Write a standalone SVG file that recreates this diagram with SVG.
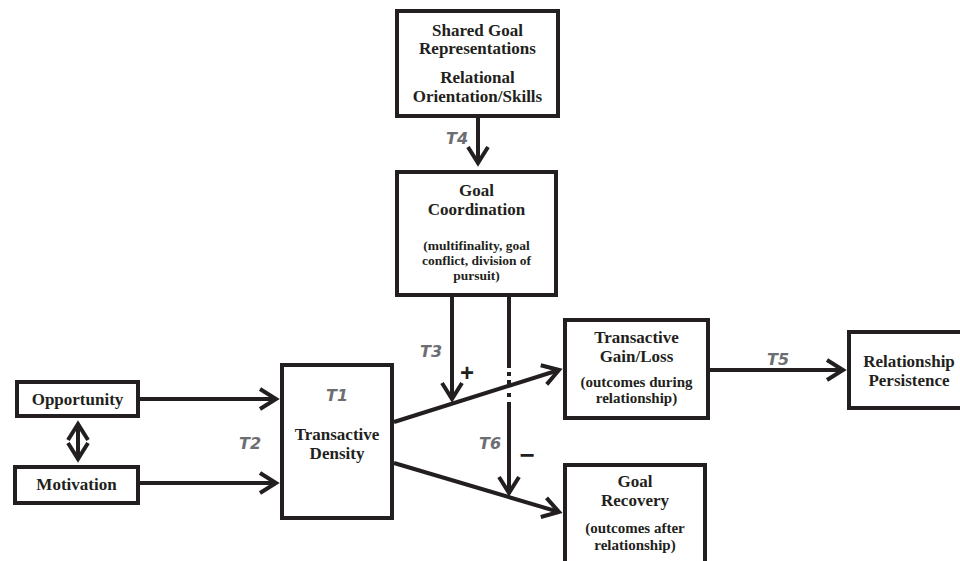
<svg xmlns="http://www.w3.org/2000/svg" width="960" height="561" viewBox="0 0 960 561">
<style>
  .box { fill: #fff; stroke: #231f20; stroke-width: 4; }
  .t { font-family: "Liberation Serif", "Times New Roman", serif; font-weight: bold; font-size: 17px; fill: #231f20; text-anchor: middle; }
  .s { font-size: 15px; }
  .xs { font-size: 13.5px; }
  .lab { font-family: "DejaVu Sans", sans-serif; font-weight: bold; font-style: italic; font-size: 16px; fill: #6d6e71; }
  .ln { stroke: #231f20; stroke-width: 4; fill: none; }
  .sign { font-family: "Liberation Sans", Arial, sans-serif; font-weight: bold; fill: #231f20; text-anchor: middle; }
</style>
<defs>
  <marker id="ah" markerUnits="userSpaceOnUse" markerWidth="40" markerHeight="40" viewBox="-20 -20 40 40" refX="0" refY="0" orient="auto" overflow="visible">
    <path d="M-16,-10 L0,0 L-16,10" fill="none" stroke="#231f20" stroke-width="4" stroke-linejoin="miter"/>
  </marker>
  <marker id="ahs" markerUnits="userSpaceOnUse" markerWidth="40" markerHeight="40" viewBox="-20 -20 40 40" refX="0" refY="0" orient="auto-start-reverse" overflow="visible">
    <path d="M-16,-10 L0,0 L-16,10" fill="none" stroke="#231f20" stroke-width="4" stroke-linejoin="miter"/>
  </marker>
</defs>
<rect width="960" height="561" fill="#fff"/>

<g id="connectors">
  <line class="ln" x1="478" y1="118" x2="478" y2="163" marker-end="url(#ah)"/>
  <line class="ln" x1="140" y1="399" x2="276" y2="399" marker-end="url(#ah)"/>
  <line class="ln" x1="140" y1="483" x2="276" y2="483" marker-end="url(#ah)"/>
  <line class="ln" x1="78" y1="424" x2="78" y2="459" marker-start="url(#ahs)" marker-end="url(#ah)"/>
  <line class="ln" x1="394" y1="422" x2="559" y2="370" marker-end="url(#ah)"/>
  <line class="ln" x1="394" y1="463" x2="559" y2="512" marker-end="url(#ah)"/>
  <line class="ln" x1="452" y1="297" x2="452" y2="399" marker-end="url(#ah)"/>
  <line class="ln" x1="509" y1="297" x2="509" y2="368"/>
  <line class="ln" x1="509" y1="372" x2="509" y2="376"/>
  <line class="ln" x1="509" y1="380" x2="509" y2="384"/>
  <line class="ln" x1="509" y1="393" x2="509" y2="397"/>
  <line class="ln" x1="509" y1="402" x2="509" y2="493" marker-end="url(#ah)"/>
  <line class="ln" x1="710" y1="370" x2="843" y2="370" marker-end="url(#ah)"/>
  <text class="lab" x="446" y="144">T4</text>
  <text class="lab" x="420" y="357">T3</text>
  <text class="lab" x="479" y="449">T6</text>
  <text class="lab" x="767" y="365">T5</text>
  <text class="lab" x="239" y="449">T2</text>
  <text class="sign" x="467" y="381" font-size="24">+</text>
  <text class="sign" x="527" y="464" font-size="26">−</text>
</g>

<g id="shared-goal">
  <rect class="box" x="397" y="11" width="161" height="105"/>
  <text class="t" x="477.5" y="36">Shared Goal</text>
  <text class="t" x="477.5" y="54">Representations</text>
  <text class="t" x="477.5" y="83">Relational</text>
  <text class="t" x="477.5" y="102">Orientation/Skills</text>
</g>

<g id="goal-coordination">
  <rect class="box" x="397" y="172" width="159" height="123"/>
  <text class="t" x="476.5" y="196">Goal</text>
  <text class="t" x="476.5" y="215">Coordination</text>
  <text class="t xs" x="476.5" y="250">(multifinality, goal</text>
  <text class="t xs" x="476.5" y="265">conflict, division of</text>
  <text class="t xs" x="476.5" y="280">pursuit)</text>
</g>

<g id="opportunity">
  <rect class="box" x="17" y="382" width="121" height="34"/>
  <text class="t" x="77.5" y="405">Opportunity</text>
</g>

<g id="motivation">
  <rect class="box" x="15" y="467" width="123" height="36"/>
  <text class="t" x="76.5" y="490">Motivation</text>
</g>

<g id="transactive-density">
  <rect class="box" x="282" y="365" width="110" height="153"/>
  <text class="lab" x="337" y="401" text-anchor="middle">T1</text>
  <text class="t" x="337" y="440">Transactive</text>
  <text class="t" x="337" y="459">Density</text>
</g>

<g id="transactive-gain">
  <rect class="box" x="565" y="320" width="143" height="98"/>
  <text class="t" x="636.5" y="343">Transactive</text>
  <text class="t" x="636.5" y="362">Gain/Loss</text>
  <text class="t s" x="636.5" y="387">(outcomes during</text>
  <text class="t s" x="636.5" y="403">relationship)</text>
</g>

<g id="goal-recovery">
  <rect class="box" x="565" y="465" width="140" height="110"/>
  <text class="t" x="635" y="487">Goal</text>
  <text class="t" x="635" y="506">Recovery</text>
  <text class="t s" x="635" y="533">(outcomes after</text>
  <text class="t s" x="635" y="550">relationship)</text>
</g>

<g id="relationship-persistence">
  <rect class="box" x="849" y="332" width="120" height="76"/>
  <text class="t" x="909" y="367">Relationship</text>
  <text class="t" x="909" y="386">Persistence</text>
</g>
</svg>
